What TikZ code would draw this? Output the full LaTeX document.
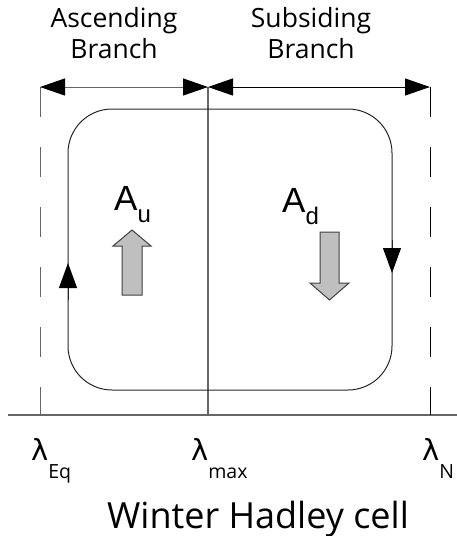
\documentclass[tikz,border=0pt]{standalone}
\usepackage{fontspec}
\setmainfont{Open Sans}
\newfontfamily\arialfont{Liberation Sans}
\newfontfamily\lamfont{DejaVu Sans}
\usetikzlibrary{arrows.meta}
\tikzset{
  bigtip/.tip={Triangle[length=25pt,width=17pt,color=black]},
  dimline/.style={line width=1pt,{bigtip}-{bigtip}},
  guide/.style={line width=1pt,dash pattern=on 30pt off 30pt},
  loopline/.style={line width=1pt,draw=black!85},
  loopdir/.style={line width=1pt,draw=black!85,-{Triangle[length=25pt,width=18pt,color=black]}},
  blockarrow/.style={fill=black!25,draw=black!75,line width=1pt,line join=miter},
  lbl/.style={inner sep=0pt,font=\fontsize{26.5}{31}\selectfont,align=center},
  lam/.style={inner sep=0pt,anchor=base west,font=\lamfont\fontsize{29}{29}\selectfont},
  avar/.style={inner sep=0pt,anchor=base west,font=\arialfont\fontsize{35}{35}\selectfont},
}
\newcommand{\lsub}[1]{\raisebox{-18pt}{\fontsize{19.5}{19.5}\selectfont\rmfamily #1}}
\newcommand{\asub}[1]{\raisebox{-12pt}{\fontsize{24}{24}\selectfont #1}}
\begin{document}
\begin{tikzpicture}[x=1pt,y=-1pt]
\useasboundingbox (0,0) rectangle (457,536);
% reference points
\coordinate (eqT) at (40,87);
\coordinate (eqB) at (40,415);
\coordinate (mxT) at (208,87);
\coordinate (mxB) at (208,415);
\coordinate (nT) at (430,87);
\coordinate (nB) at (430,415);
\coordinate (axL) at (8,415);
\coordinate (axR) at (457,415);
% axis
\draw[line width=1.5pt,draw=black!60] (axL) -- (axR);
% vertical guides
\draw[guide,draw=black!60] (eqT) -- (eqB);
\draw[line width=1.2pt,draw=black!60] (mxT) -- (mxB);
\draw[guide,draw=black] (nT) -- (nB);
% branch extents
\draw[dimline,draw=black!60] (eqT) -- (mxT);
\draw[dimline,draw=black] (mxT) -- (nT);
% circulation loop
\draw[loopline,rounded corners=44pt] (68,109) rectangle (392,390);
\coordinate (upA) at (68,300);
\coordinate (upB) at (68,263);
\coordinate (dnA) at (392,240);
\coordinate (dnB) at (392,273);
\draw[loopdir] (upA) -- (upB);
\draw[loopdir] (dnA) -- (dnB);
% block arrows
\draw[blockarrow] (122,295) -- (122,246) -- (113,246) -- (132,230) -- (151,246) -- (142,246) -- (142,295) -- cycle;
\draw[blockarrow] (320,232) -- (339,232) -- (339,283) -- (349,283) -- (329.5,300) -- (310,283) -- (320,283) -- cycle;
% labels
\node[lbl,anchor=base] (asc) at (114,58) {Ascending\\Branch};
\node[lbl,anchor=base] (sub) at (311,58) {Subsiding\\Branch};
\node[avar] (au) at (114,210) {A\asub{u}};
\node[avar] (ad) at (282,212) {A\asub{d}};
\node[lam] (leq) at (31,460) {λ\lsub{Eq}};
\node[lam] (lmx) at (191,460) {λ\lsub{max}};
\node[lam] (ln) at (422,460) {λ\lsub{N}};
\node[inner sep=0pt,anchor=base,font=\fontsize{36}{36}\selectfont] (title) at (258,528) {Winter Hadley cell};
\end{tikzpicture}
\end{document}
